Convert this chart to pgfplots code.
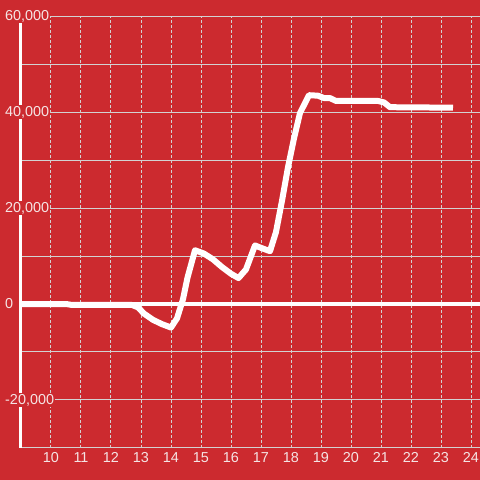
\documentclass[border=0pt]{standalone}
\usepackage{fontspec}
\setmainfont{Liberation Sans}
\usepackage{pgfplots}
\pgfplotsset{compat=1.18}
\definecolor{bg}{HTML}{CC2A2F}
\definecolor{gridc}{HTML}{D2D2D2}
\definecolor{txt}{HTML}{F5E4E4}

\begin{document}
\begin{tikzpicture}[x=1pt,y=1pt]
\fill[bg] (0,0) rectangle (480,480);
\useasboundingbox (0,0) rectangle (480,480);
\begin{axis}[
  at={(21pt,32pt)}, anchor=south west,
  scale only axis, width=459pt, height=432pt,
  xmin=9, xmax=24.3, ymin=-30000, ymax=60000,
  axis x line*=bottom, axis y line*=left,
  x axis line style={gridc, line width=1pt, -},
  y axis line style={white, line width=3pt, -},
  xtick={10,...,24},
  ytick={-20000,0,20000,40000,60000},
  minor ytick={-10000,10000,30000,50000},
  major tick length=0pt, minor tick length=0pt,
  xmajorgrids, ymajorgrids, yminorgrids,
  major grid style={gridc, line width=1pt},
  minor grid style={gridc, line width=1pt},
  x grid style={dash pattern=on 3pt off 2pt},
  scaled y ticks=false,
  /pgf/number format/1000 sep={,},
  /pgf/number format/assume math mode=true,
  tick label style={font=\fontsize{14.4}{17}\selectfont, text=txt},
  xticklabel style={yshift=-1pt},
  yticklabel style={anchor=west, xshift=-17pt, fill=bg, inner xsep=1pt, inner ysep=1pt},
]
\draw[white, line width=4pt] (axis cs:9,0) -- (axis cs:24.3,0);
\addplot[white, line width=6pt, line join=round] coordinates {
  (9,0) (10.5,0) (10.7,-200) (12.7,-200) (12.9,-700) (13.1,-2000)
  (13.4,-3300) (13.7,-4200) (14.0,-4900) (14.2,-3000) (14.4,1000)
  (14.55,5500) (14.8,11200) (15.1,10500) (15.4,9300) (15.7,7700)
  (16.0,6300) (16.25,5400) (16.5,7200) (16.8,12200) (17.0,11700)
  (17.3,11000) (17.5,15000) (17.7,21500) (17.9,28500) (18.1,34500)
  (18.3,39800) (18.6,43500) (18.9,43400) (19.1,42900) (19.3,42900)
  (19.5,42300) (20.9,42300) (21.1,42000) (21.3,41000) (23.4,40900)
};
\end{axis}
\end{tikzpicture}
\end{document}
